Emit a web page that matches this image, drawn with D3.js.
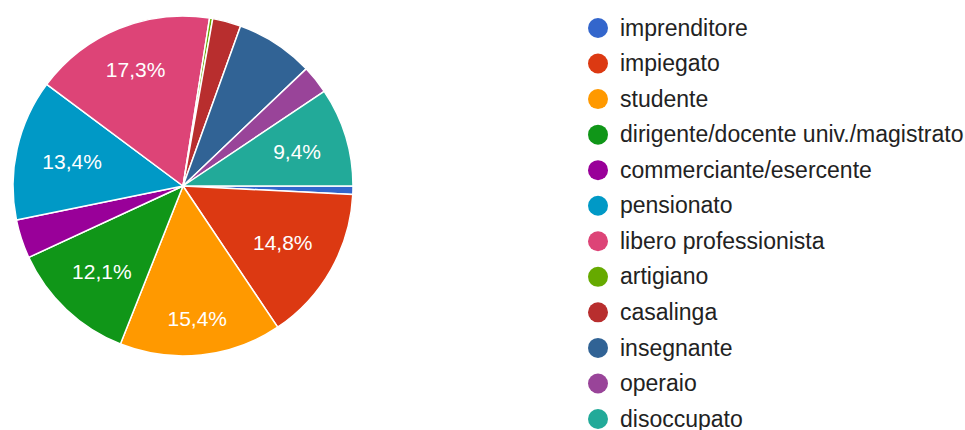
<!DOCTYPE html>
<html>
<head>
<meta charset="utf-8">
<script src="https://cdn.jsdelivr.net/npm/d3@7"></script>
<style>
  html, body { margin: 0; padding: 0; background: #fff; }
  svg { display: block; }
</style>
</head>
<body>
<svg id="chart" width="965" height="430"></svg>
<script>
// ── Data ─────────────────────────────────────────────
const categories = [
  'imprenditore', 'impiegato', 'studente', 'dirigente/docente univ./magistrato',
  'commerciante/esercente', 'pensionato', 'libero professionista', 'artigiano',
  'casalinga', 'insegnante', 'operaio', 'disoccupato'
];
const percents = [0.8, 14.8, 15.4, 12.1, 3.7, 13.4, 17.3, 0.3, 2.7, 7.4, 2.7, 9.4];
const colors = [
  '#3366cc', '#dc3912', '#ff9900', '#109618', '#990099', '#0099c6',
  '#dd4477', '#66aa00', '#b82e2e', '#316395', '#994499', '#22aa99'
];
const labelMin = 9; // slices below this get no text

// ── Layout ───────────────────────────────────────────
const cx = 183, cy = 186, R = 170;
const FONT = '"Liberation Sans", Arial, sans-serif';

const svg = d3.select('#chart');
const g = svg.append('g').attr('transform', `translate(${cx},${cy})`);

const pie = d3.pie()
  .value(d => d.v)
  .sort(null)
  .startAngle(Math.PI / 2)
  .endAngle(Math.PI / 2 + 2 * Math.PI);

const data = categories.map((c, i) => ({ name: c, v: percents[i], color: colors[i] }));
const arcs = pie(data);
const arc = d3.arc().innerRadius(0).outerRadius(R);

g.selectAll('path.slice')
  .data(arcs)
  .join('path')
    .attr('class', 'slice')
    .attr('d', arc)
    .attr('fill', d => d.data.color)
    .attr('stroke', '#fff')
    .attr('stroke-width', 1.5)
    .attr('stroke-linejoin', 'round');

// ── Slice labels: outer edge of text box sits on a fixed radius ──
const R0 = R * 0.85;
arcs.filter(d => d.data.v >= labelMin).forEach(d => {
  const txt = d.data.v.toFixed(1).replace('.', ',') + '%';
  const t = g.append('text')
    .attr('text-anchor', 'middle')
    .attr('dy', '0.36em')
    .attr('fill', '#fff')
    .attr('font-size', 21)
    .attr('font-family', FONT)
    .text(txt);
  const hw = t.node().getComputedTextLength() / 2;
  const hh = 8;
  const a = (d.startAngle + d.endAngle) / 2;
  const s = Math.sin(a), c = -Math.cos(a);
  const dist = R0 - (Math.abs(c) * hh + Math.abs(s) * hw);
  t.attr('x', s * dist).attr('y', c * dist);
});

// ── Legend ───────────────────────────────────────────
const yLeg = d3.scalePoint()
  .domain(categories)
  .range([28, 419]);

const leg = svg.append('g');
const rows = leg.selectAll('g')
  .data(data)
  .join('g')
    .attr('transform', d => `translate(598,${yLeg(d.name)})`);

rows.append('circle')
  .attr('r', 10)
  .attr('fill', d => d.color);

rows.append('text')
  .attr('x', 22)
  .attr('dy', '0.33em')
  .attr('fill', '#222')
  .attr('font-size', 23)
  .attr('font-family', FONT)
  .text(d => d.name);
</script>
</body>
</html>
